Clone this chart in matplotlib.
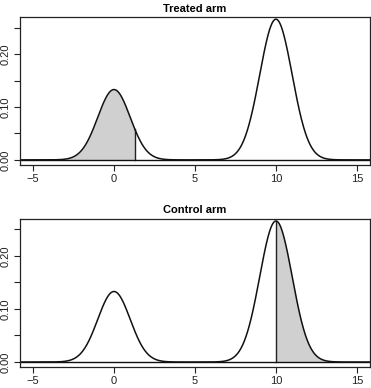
import matplotlib
matplotlib.use("Agg")
import matplotlib.pyplot as plt
import numpy as np

plt.rcParams['font.family'] = ['Liberation Sans', 'DejaVu Sans']

# mixture of two normals
weights = [1/3, 2/3]
means = [0.0, 10.0]
sds = [1.0, 1.0]

titles = ["Treated arm", "Control arm"]
# shaded region under one component: (component, lower, upper)
shade = [(0, -6.0, 1.28), (1, 10.0, 16.0)]

xticks = [-5, 0, 5, 10, 15]
yticks = [0.0, 0.05, 0.10, 0.15, 0.20, 0.25]
ylabels = ["0.00", "", "0.10", "", "0.20", ""]

def npdf(x, m, s):
    return np.exp(-0.5 * ((x - m) / s) ** 2) / (s * np.sqrt(2 * np.pi))

x = np.linspace(-6, 16, 1200)
dens = sum(w * npdf(x, m, s) for w, m, s in zip(weights, means, sds))

fig = plt.figure(figsize=(3.71, 3.88), dpi=100)
positions = [[0.054, 0.575, 0.943, 0.381], [0.054, 0.054, 0.943, 0.382]]

for i in range(2):
    ax = fig.add_axes(positions[i])
    comp, lo, hi = shade[i]
    xs = np.linspace(lo, hi, 400)
    ys = weights[comp] * npdf(xs, means[comp], sds[comp])
    ax.fill_between(xs, 0, ys, color='#d0d0d0', lw=0)
    edge = hi if i == 0 else lo
    ax.plot([edge, edge], [0, weights[comp] * npdf(edge, means[comp], sds[comp])],
            color='#222222', lw=1)
    ax.plot(x, dens, color='#111111', lw=1.1)
    ax.axhline(0, color='#111111', lw=1)
    ax.set_xlim(-5.8, 15.8)
    ax.set_ylim(-0.0095, 0.2700)
    ax.set_xticks(xticks)
    ax.set_yticks(yticks)
    ax.set_yticklabels(ylabels, rotation=90, va='center')
    ax.tick_params(direction='out', length=4.5, width=0.8, labelsize=8,
                   colors='#222222', pad=2)
    for sp in ax.spines.values():
        sp.set_linewidth(0.9)
        sp.set_color('#222222')
    ax.set_title(titles[i], fontsize=8, fontweight='bold', pad=4)

fig.savefig("out.png", dpi=100)
